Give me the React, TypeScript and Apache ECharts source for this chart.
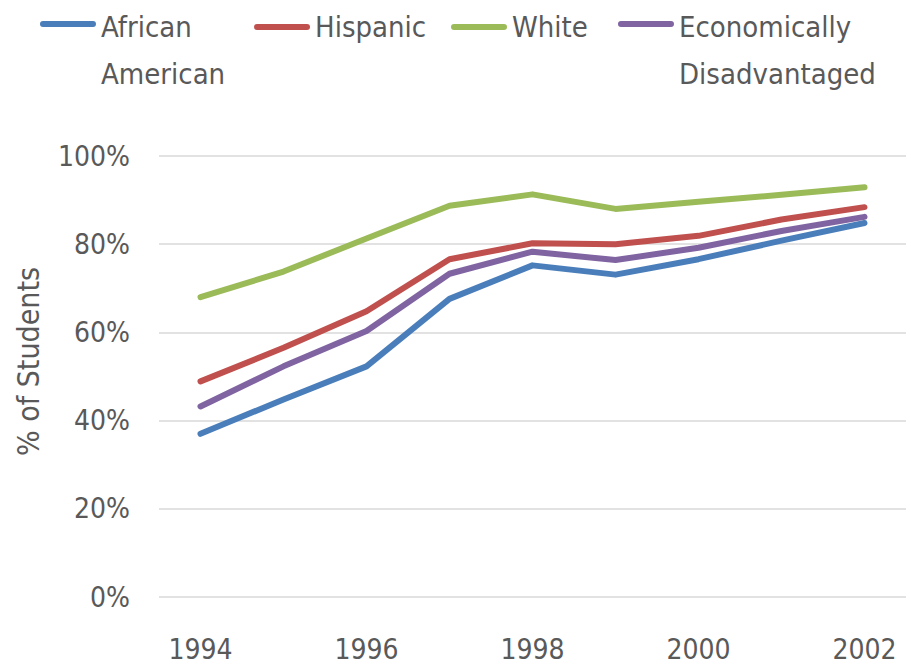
import React, { useEffect, useRef } from "react";
import * as echarts from "echarts";

const years = ["1994", "1995", "1996", "1997", "1998", "1999", "2000", "2001", "2002"];
const africanAmerican = [37.0, 44.8, 52.3, 67.6, 75.2, 73.1, 76.6, 80.8, 84.8];
const hispanic = [48.9, 56.5, 64.8, 76.6, 80.2, 80.0, 81.9, 85.6, 88.4];
const white = [68.0, 73.8, 81.3, 88.7, 91.3, 88.0, 89.6, 91.2, 92.9];
const econDisadv = [43.2, 52.3, 60.3, 73.3, 78.3, 76.4, 79.2, 83.0, 86.2];

const seriesNames = ["African\nAmerican", "Hispanic", "White", "Economically\nDisadvantaged"];
const seriesColors = ["#4a7ebb", "#c0504d", "#9bbb59", "#8064a2"];
const seriesData = [africanAmerican, hispanic, white, econDisadv];

const FONT = "'DejaVu Sans Condensed', 'Liberation Sans', sans-serif";
const TEXT = "#595959";

const BAR = "M3,0 H53 A3,3 0 0 1 53,6 H3 A3,3 0 0 1 3,0 Z";

export default function App() {
  const ref = useRef<HTMLDivElement>(null);
  useEffect(() => {
    if (!ref.current) return;
    const chart = echarts.init(ref.current, undefined, { renderer: "svg" });
    const LH = 47;
    const legendLefts = [40, 254, 451, 618];
    const legends = seriesNames.map((name, i) => {
      const multi = name.includes("\n");
      return {
        data: [name],
        left: legendLefts[i],
        top: 3.5,
        padding: 0,
        itemWidth: 56,
        itemHeight: multi ? 59 : 6,
        itemGap: 0,
        icon: multi ? "path://" + BAR + " M0,59 h0.01 v0.01 h-0.01 Z" : "path://" + BAR,
        itemStyle: { borderWidth: 0 },
        textStyle: {
          fontFamily: FONT,
          fontSize: 29,
          color: TEXT,
          lineHeight: LH,
        },
      };
    });
    chart.setOption({
      animation: false,
      backgroundColor: "#ffffff",
      legend: legends,
      grid: { left: 159, right: 0, top: 156, bottom: 71, outerBoundsMode: "none", containLabel: false },
      xAxis: {
        type: "category",
        data: years,
        boundaryGap: true,
        axisLine: { show: false },
        axisTick: { show: false },
        axisLabel: {
          interval: 1,
          margin: 38,
          fontFamily: FONT,
          fontSize: 28,
          color: TEXT,
        },
      },
      yAxis: {
        type: "value",
        min: 0,
        max: 100,
        interval: 20,
        name: "% of Students",
        nameLocation: "middle",
        nameGap: 116,
        nameTextStyle: {
          fontFamily: FONT,
          fontSize: 30,
          color: TEXT,
          padding: [0, 0, 0, 30],
        },
        axisLine: { show: false },
        axisTick: { show: false },
        axisLabel: {
          formatter: "{value}%",
          margin: 29,
          fontFamily: FONT,
          fontSize: 28,
          color: TEXT,
        },
        splitLine: { lineStyle: { color: "#d9d9d9", width: 1.5 } },
      },
      series: seriesNames.map((name, i) => ({
        name,
        type: "line",
        data: seriesData[i],
        symbol: "none",
        showSymbol: false,
        color: seriesColors[i],
        itemStyle: { color: seriesColors[i] },
        lineStyle: { width: 6, color: seriesColors[i], cap: "round", join: "round" },
      })),
    });
    return () => chart.dispose();
  }, []);
  return (
    <div
      ref={ref}
      style={{ position: "fixed", left: 0, top: 0, width: 906, height: 668 }}
    />
  );
}
